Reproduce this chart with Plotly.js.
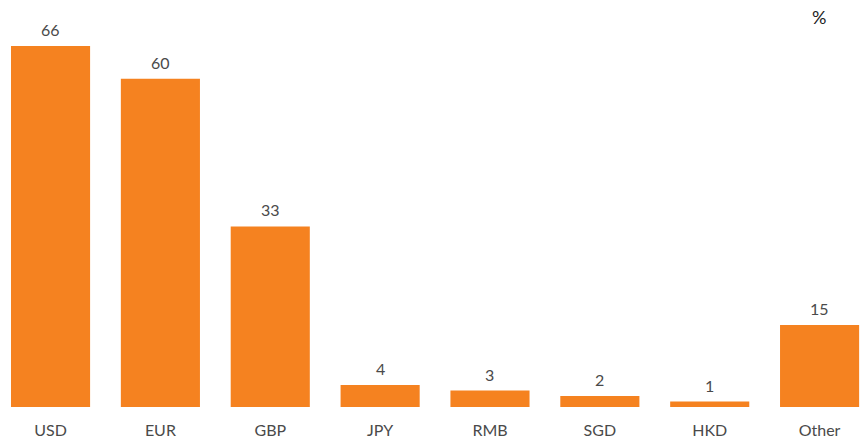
<!DOCTYPE html>
<html>
<head>
<meta charset="utf-8">
<script src="https://cdn.plot.ly/plotly-3.0.1.min.js"></script>
<style>html,body{margin:0;padding:0;background:#fff;}#chart{width:861px;height:441px;}</style>
</head>
<body>
<div id="chart"></div>
<script>
const categories = ["USD", "EUR", "GBP", "JPY", "RMB", "SGD", "HKD", "Other"];
const values = [66, 60, 33, 4, 3, 2, 1, 15];

const FONT = "Lato, 'Noto Sans', sans-serif";

const trace = {
  type: "bar",
  x: categories,
  y: values,
  marker: {color: "#F58220"},
  width: 0.72,
  hoverinfo: "none"
};

const valueLabels = categories.map((c, i) => ({
  x: c, y: values[i],
  xref: "x", yref: "y",
  text: String(values[i]),
  showarrow: false,
  xanchor: "center", yanchor: "bottom",
  yshift: 5,
  font: {family: FONT, size: 16, color: "#4a4a4a"}
}));

const layout = {
  width: 861,
  height: 441,
  margin: {l: 0, r: 0, t: 0, b: 34, pad: 0},
  paper_bgcolor: "#ffffff",
  plot_bgcolor: "#ffffff",
  showlegend: false,
  xaxis: {
    range: [-0.46, 7.377],
    showgrid: false,
    zeroline: false,
    showline: false,
    ticks: "",
    ticklabelstandoff: 12,
    tickfont: {family: FONT, size: 16, color: "#4a4a4a"},
    fixedrange: true
  },
  yaxis: {
    range: [0, 74.4],
    showgrid: false,
    zeroline: false,
    showline: false,
    showticklabels: false,
    ticks: "",
    fixedrange: true
  },
  annotations: valueLabels.concat([{
    text: "%",
    xref: "paper", yref: "paper",
    x: 819 / 861, y: 1,
    yshift: -17,
    xanchor: "center", yanchor: "middle",
    showarrow: false,
    font: {family: FONT, size: 18, color: "#222222"}
  }])
};

Plotly.newPlot("chart", [trace], layout, {displayModeBar: false, staticPlot: true});
</script>
</body>
</html>
